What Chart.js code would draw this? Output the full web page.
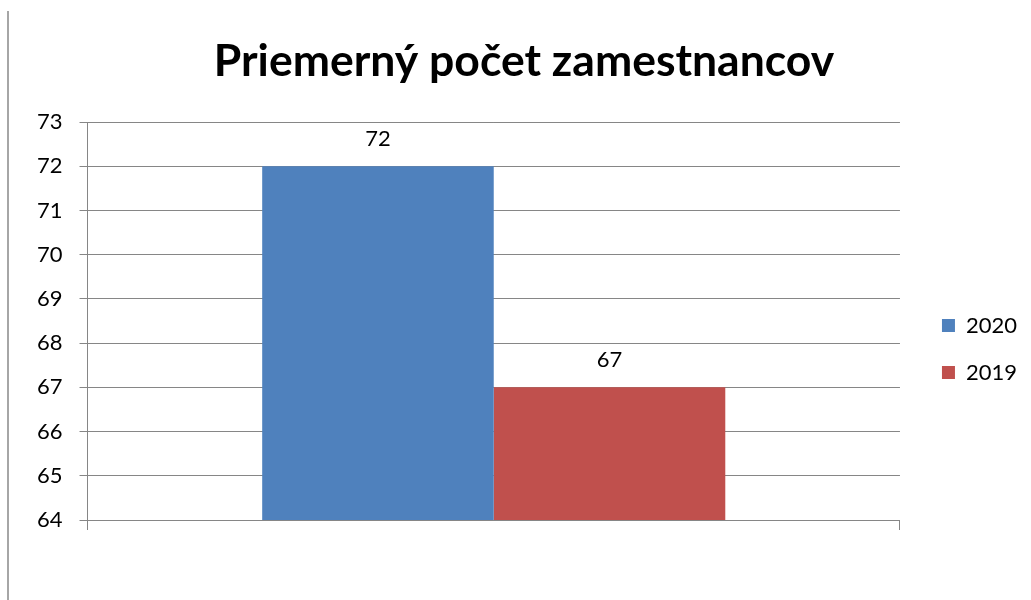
<!DOCTYPE html>
<html>
<head>
<meta charset="utf-8">
<script src="https://cdn.jsdelivr.net/npm/chart.js@4"></script>
<style>
  html, body { margin: 0; padding: 0; background: #fff; }
  #wrap { width: 1031px; height: 600px; position: relative; }
</style>
</head>
<body>
<div id="wrap"><canvas id="chart"></canvas></div>
<script>
'use strict';

// --- Data ---
const categories = [''];
const seriesNames = ['2020', '2019'];
const seriesValues = [[72], [67]];
const seriesColors = ['#4F81BD', '#C0504D'];
const yMin = 64, yMax = 73;

const FONT = 'Lato, "Open Sans", sans-serif';

// --- Value labels above the bars ---
const valueLabels = {
  id: 'valueLabels',
  afterDatasetsDraw(chart) {
    const ctx = chart.ctx;
    ctx.save();
    ctx.font = '22px ' + FONT;
    ctx.fillStyle = '#000';
    ctx.textAlign = 'center';
    ctx.textBaseline = 'middle';
    chart.data.datasets.forEach((ds, i) => {
      chart.getDatasetMeta(i).data.forEach((bar, j) => {
        ctx.fillText(String(ds.data[j]), bar.x, bar.y - 27);
      });
    });
    ctx.restore();
  }
};

// --- Frame line on the left edge ---
const leftFrame = {
  id: 'leftFrame',
  beforeDraw(chart) {
    const ctx = chart.ctx;
    ctx.save();
    ctx.strokeStyle = '#a6a6a6';
    ctx.lineWidth = 2;
    ctx.beginPath();
    ctx.moveTo(8, 11);
    ctx.lineTo(8, chart.height);
    ctx.stroke();
    ctx.restore();
  }
};

// --- Nudge legend and title (the original sits a bit lower / further right) ---
const blockNudge = {
  id: 'blockNudge',
  afterLayout(chart) {
    const lg = chart.legend;
    if (lg) {
      lg.left += 17; lg.right += 17;
      lg.top += 84; lg.bottom += 84;
    }
    const tb = chart.titleBlock;
    if (tb) { tb.left += 9; tb.right += 9; }
  }
};

const datasets = seriesNames.map((name, i) => ({
  label: name,
  data: seriesValues[i],
  backgroundColor: seriesColors[i],
  borderWidth: 0,
  categoryPercentage: 0.57,
  barPercentage: 1.0
}));

new Chart(document.getElementById('chart'), {
  type: 'bar',
  data: { labels: categories, datasets: datasets },
  plugins: [valueLabels, leftFrame, blockNudge],
  options: {
    responsive: true,
    maintainAspectRatio: false,
    animation: false,
    layout: { padding: { left: 20, right: 21, top: 0, bottom: 70 } },
    plugins: {
      title: {
        display: true,
        text: 'Priemerný počet zamestnancov',
        color: '#000',
        font: { family: FONT, size: 44.5, weight: 'bold' },
        padding: { top: 35, bottom: 33.6 }
      },
      legend: {
        position: 'right',
        labels: {
          color: '#000',
          font: { family: FONT, size: 22 },
          boxWidth: 13,
          boxHeight: 13,
          padding: 25
        }
      },
      tooltip: { enabled: false }
    },
    scales: {
      x: {
        grid: { drawOnChartArea: false, drawTicks: true, tickLength: 10, color: '#868686', offset: true },
        border: { display: true, color: '#868686' },
        ticks: { display: false }
      },
      y: {
        min: yMin,
        max: yMax,
        ticks: { stepSize: 1, color: '#000', font: { family: FONT, size: 22 }, padding: 17 },
        grid: { color: '#868686', tickLength: 8 },
        border: { display: true, color: '#868686' }
      }
    }
  }
});
</script>
</body>
</html>
